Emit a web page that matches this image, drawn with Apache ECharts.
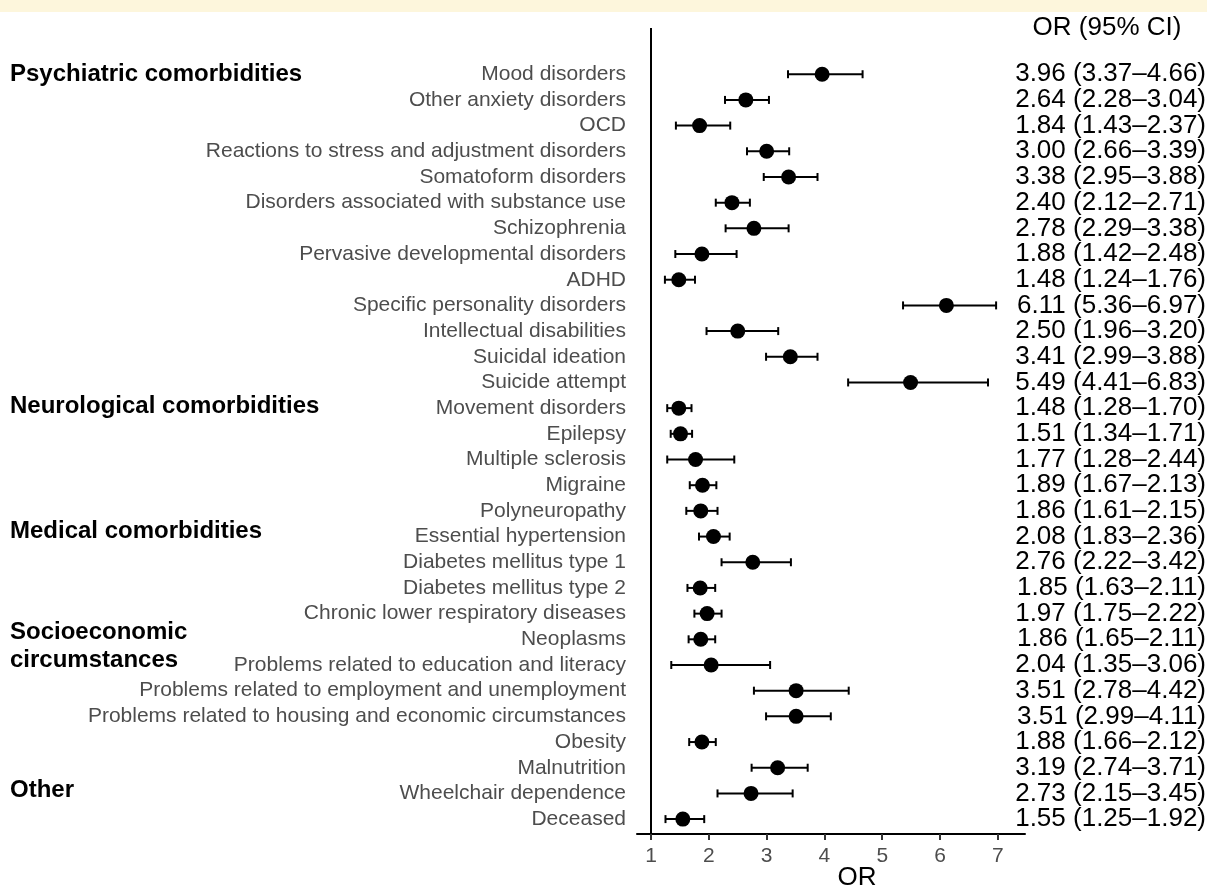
<!DOCTYPE html>
<html>
<head>
<meta charset="utf-8">
<script src="https://cdn.jsdelivr.net/npm/echarts@6/dist/echarts.min.js"></script>
<style>
  html, body { margin: 0; padding: 0; background: #fff; }
  #chart { width: 1207px; height: 887px; }
</style>
</head>
<body>
<div id="chart"></div>
<script>
// Odds ratios with 95% confidence intervals, one row per condition (top to bottom)
const conditions = [
  'Mood disorders', 'Other anxiety disorders', 'OCD',
  'Reactions to stress and adjustment disorders', 'Somatoform disorders',
  'Disorders associated with substance use', 'Schizophrenia',
  'Pervasive developmental disorders', 'ADHD', 'Specific personality disorders',
  'Intellectual disabilities', 'Suicidal ideation', 'Suicide attempt',
  'Movement disorders', 'Epilepsy', 'Multiple sclerosis', 'Migraine', 'Polyneuropathy',
  'Essential hypertension', 'Diabetes mellitus type 1', 'Diabetes mellitus type 2',
  'Chronic lower respiratory diseases', 'Neoplasms',
  'Problems related to education and literacy',
  'Problems related to employment and unemployment',
  'Problems related to housing and economic circumstances',
  'Obesity', 'Malnutrition', 'Wheelchair dependence', 'Deceased'
];
const oddsRatio = [3.96, 2.64, 1.84, 3.00, 3.38, 2.40, 2.78, 1.88, 1.48, 6.11, 2.50, 3.41, 5.49,
  1.48, 1.51, 1.77, 1.89, 1.86, 2.08, 2.76, 1.85, 1.97, 1.86, 2.04, 3.51, 3.51, 1.88, 3.19, 2.73, 1.55];
const ciLower = [3.37, 2.28, 1.43, 2.66, 2.95, 2.12, 2.29, 1.42, 1.24, 5.36, 1.96, 2.99, 4.41,
  1.28, 1.34, 1.28, 1.67, 1.61, 1.83, 2.22, 1.63, 1.75, 1.65, 1.35, 2.78, 2.99, 1.66, 2.74, 2.15, 1.25];
const ciUpper = [4.66, 3.04, 2.37, 3.39, 3.88, 2.71, 3.38, 2.48, 1.76, 6.97, 3.20, 3.88, 6.83,
  1.70, 1.71, 2.44, 2.13, 2.15, 2.36, 3.42, 2.11, 2.22, 2.11, 3.06, 4.42, 4.11, 2.12, 3.71, 3.45, 1.92];

// Group headings and the row position they sit at
const groupNames = ['Psychiatric comorbidities', 'Neurological comorbidities', 'Medical comorbidities',
  'Socioeconomic\ncircumstances', 'Other'];
const groupRows = [0, 12.92, 17.8, 22.27, 27.87];

const xTicks = [1, 2, 3, 4, 5, 6, 7];

const fmt = v => v.toFixed(2);
const rows = conditions.map((c, i) => [oddsRatio[i], i, ciLower[i], ciUpper[i], c,
  fmt(oddsRatio[i]) + ' (' + fmt(ciLower[i]) + '\u2013' + fmt(ciUpper[i]) + ')']);

const FONT = '"Liberation Sans", Arial, Helvetica, sans-serif';
const chart = echarts.init(document.getElementById('chart'), null, { renderer: 'canvas' });

chart.setOption({
  backgroundColor: '#ffffff',
  animation: false,
  grid: { left: 637, right: 182, top: 28, bottom: 53 },
  xAxis: {
    type: 'value', min: 0.757, max: 7.47,
    axisLine: { show: true, onZero: false, lineStyle: { color: '#000', width: 2 } },
    axisTick: { show: true, customValues: xTicks, length: 6, lineStyle: { color: '#333', width: 2 } },
    axisLabel: { customValues: xTicks, color: '#4d4d4d', fontSize: 21, fontFamily: FONT, margin: 12 },
    splitLine: { show: false }
  },
  yAxis: {
    type: 'value', inverse: true, min: -1.8, max: 29.58,
    axisLine: { show: false }, axisTick: { show: false }, axisLabel: { show: false },
    splitLine: { show: false }
  },
  graphic: [
    { type: 'rect', shape: { x: 0, y: 0, width: 1207, height: 12 }, style: { fill: '#fdf6dc' }, silent: true },
    { type: 'text', x: 1107, y: 28, style: { text: 'OR (95% CI)', fontSize: 26, fontFamily: FONT,
      fill: '#000', textAlign: 'center', textVerticalAlign: 'middle' } },
    { type: 'text', x: 857, y: 878, style: { text: 'OR', fontSize: 26, fontFamily: FONT,
      fill: '#000', textAlign: 'center', textVerticalAlign: 'middle' } }
  ],
  series: [
    {
      // reference line at OR = 1
      type: 'line', data: [], silent: true,
      markLine: {
        symbol: 'none', silent: true, label: { show: false },
        lineStyle: { color: '#000', width: 2, type: 'solid' },
        data: [{ xAxis: 1 }]
      }
    },
    {
      // confidence intervals, points, row labels and value text
      type: 'custom',
      data: rows,
      encode: { x: 0, y: 1 },
      renderItem: function (params, api) {
        const i = api.value(1);
        const p = api.coord([api.value(0), i]);
        const lo = api.coord([api.value(2), i]);
        const hi = api.coord([api.value(3), i]);
        const cs = params.coordSys;
        const cap = 4;
        const line = { stroke: '#000', lineWidth: 2 };
        return {
          type: 'group',
          children: [
            { type: 'line', shape: { x1: lo[0], y1: p[1], x2: hi[0], y2: p[1] }, style: line },
            { type: 'line', shape: { x1: lo[0], y1: p[1] - cap, x2: lo[0], y2: p[1] + cap }, style: line },
            { type: 'line', shape: { x1: hi[0], y1: p[1] - cap, x2: hi[0], y2: p[1] + cap }, style: line },
            { type: 'circle', shape: { cx: p[0], cy: p[1], r: 7.5 }, style: { fill: '#000' } },
            { type: 'text', x: cs.x - 11, y: p[1], style: { text: conditions[i], fontSize: 21,
              fontFamily: FONT, fill: '#4d4d4d', textAlign: 'right', textVerticalAlign: 'middle' } },
            { type: 'text', x: api.getWidth() - 1, y: p[1], style: { text: rows[i][5], fontSize: 26,
              fontFamily: FONT, fill: '#000', textAlign: 'right', textVerticalAlign: 'middle' } }
          ]
        };
      }
    },
    {
      // group headings
      type: 'custom',
      data: groupRows.map((r, k) => [0.757, r, k]),
      encode: { x: 0, y: 1 },
      renderItem: function (params, api) {
        const k = api.value(2);
        const p = api.coord([1, api.value(1)]);
        return {
          type: 'text', x: 10, y: p[1],
          style: { text: groupNames[k], fontSize: 24, fontWeight: 'bold', fontFamily: FONT,
            fill: '#000', textAlign: 'left', textVerticalAlign: 'middle', lineHeight: 28 }
        };
      }
    }
  ]
});
</script>
</body>
</html>
